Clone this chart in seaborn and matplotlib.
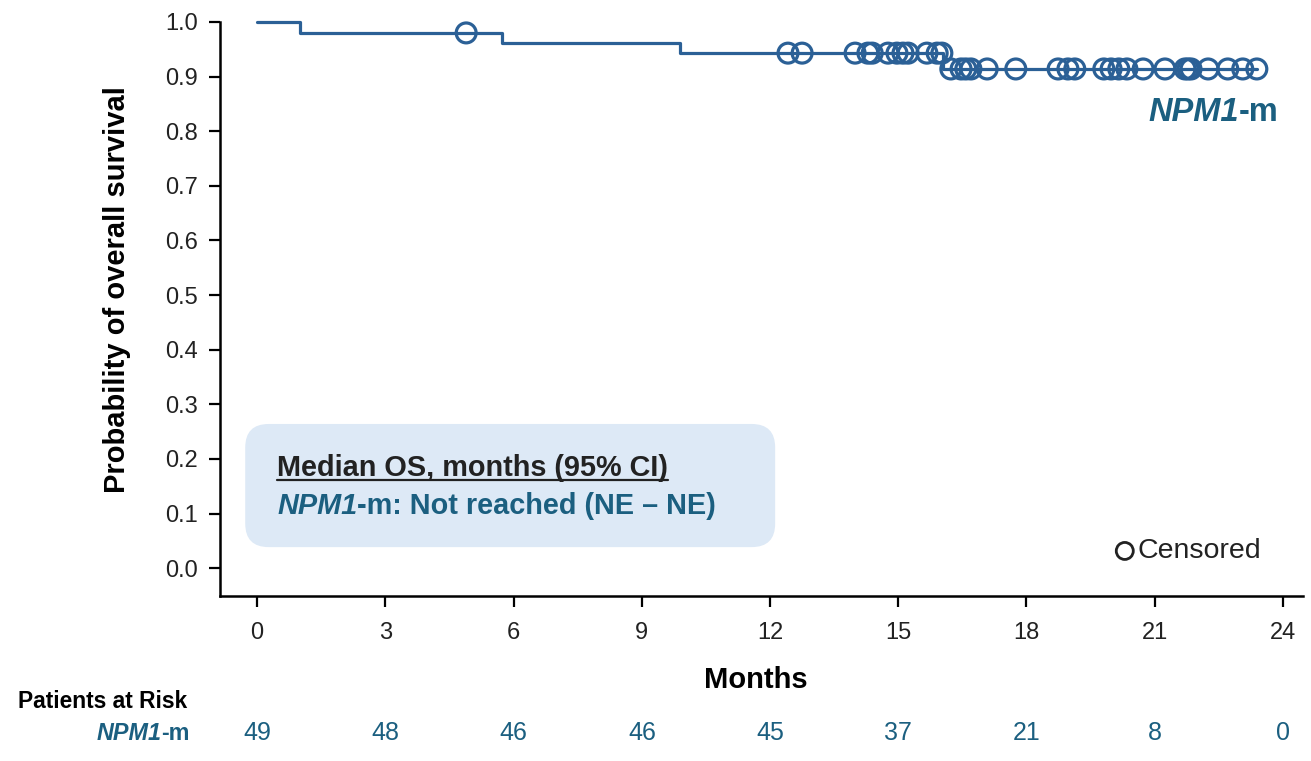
import numpy as np
import pandas as pd
import matplotlib
matplotlib.use("Agg")
import matplotlib.pyplot as plt
import seaborn as sns
from matplotlib.patches import FancyBboxPatch
from matplotlib.lines import Line2D

# KM step data
event_times = [0.0, 1.0, 5.73, 9.9, 16.05]
survival = [1.0, 0.98, 0.962, 0.943, 0.914]
last_followup = 23.39

censor_times = [4.89, 12.42, 12.75, 13.99, 14.29, 14.39, 14.76, 14.97, 15.11,
                15.23, 15.67, 15.91, 16.02, 16.23, 16.47, 16.58, 16.70, 17.08,
                17.75, 18.74, 18.97, 19.13, 19.81, 19.98, 20.16, 20.35, 20.73,
                21.24, 21.71, 21.78, 21.85, 22.25, 22.71, 23.06, 23.39]

risk_times = [0, 3, 6, 9, 12, 15, 18, 21, 24]
at_risk = [49, 48, 46, 46, 45, 37, 21, 8, 0]

line_col = "#2b6096"
teal = "#1b5f80"

sns.set_style("ticks")
plt.rcParams['font.family'] = ['Liberation Sans', 'DejaVu Sans']

fig = plt.figure(figsize=(13.11, 7.61), dpi=100)
ax = fig.add_axes([220/1311, 1-596/761, 1083/1311, 574/761])

curve = pd.DataFrame({"t": event_times + [last_followup],
                      "s": survival + [survival[-1]]})
sns.lineplot(data=curve, x="t", y="s", drawstyle="steps-post", color=line_col,
             linewidth=2.3, ax=ax, clip_on=False)

idx = np.searchsorted(event_times, censor_times, side="right") - 1
cens = pd.DataFrame({"t": censor_times, "s": np.array(survival)[idx]})
sns.scatterplot(data=cens, x="t", y="s", marker="o", s=205, facecolor="none",
                edgecolor=line_col, linewidth=2.3, ax=ax, clip_on=False, zorder=3)

ax.set_xlim(-0.87, 24.47)
ax.set_ylim(-0.051, 1.0)
ax.set_xticks(risk_times)
ax.set_yticks(np.arange(0, 1.01, 0.1))
ax.set_yticklabels([f"{v:.1f}" for v in np.arange(0, 1.01, 0.1)])
ax.tick_params(axis="both", labelsize=17, length=8, width=1.6, color="black",
               labelcolor="#222222")
ax.tick_params(axis="y", pad=8)
ax.tick_params(axis="x", pad=11)
for side in ["left", "bottom"]:
    ax.spines[side].set_linewidth(1.8)
    ax.spines[side].set_color("black")
sns.despine(ax=ax)

ax.set_ylabel("Probability of overall survival", fontsize=21, fontweight="bold",
              color="black")
ax.yaxis.set_label_coords(-0.082, 0.533)
ax.set_xlabel("Months", fontsize=21, fontweight="bold", color="black")
ax.xaxis.set_label_coords(0.495, -0.122)
ax.xaxis.label.set_va("top")

# median OS box
box = FancyBboxPatch((-0.28, 0.0385), 12.4, 0.2255,
                     boxstyle="round,pad=0,rounding_size=0.55",
                     mutation_aspect=42.75/545, facecolor="#dde9f6",
                     edgecolor="none", zorder=1)
ax.add_patch(box)

t_head = ax.text(0.47, 0.157, "Median OS, months (95% CI)", fontsize=20.8,
                 fontweight="bold", color="#222222", va="bottom", zorder=4)
t1 = ax.text(0.47, 0.089, "NPM1", fontsize=20.8, fontweight="bold",
             style="italic", color=teal, va="bottom", zorder=4)
ax.annotate("-m: Not reached (NE \u2013 NE)", xy=(1, 0), xycoords=t1,
            fontsize=20.8, fontweight="bold", color=teal, va="bottom", zorder=4)

# curve label
lab_m = ax.text(23.9, 0.806, "-m", fontsize=23.5, fontweight="bold", color=teal,
                ha="right", va="bottom")
ax.annotate("NPM1", xy=(0, 0), xycoords=lab_m, fontsize=23.5, fontweight="bold",
            style="italic", color=teal, ha="right", va="bottom")

# censored legend
ax.scatter([20.3], [0.0315], marker="o", s=150, facecolor="none",
           edgecolor="#222222", linewidth=2.0, zorder=4)
ax.text(20.6, 0.0315, "Censored", fontsize=20.5, color="#222222", va="center")

# patients at risk table
xtr = ax.get_xaxis_transform()
ax.text(-0.1865, -0.183, "Patients at Risk", transform=ax.transAxes,
        fontsize=16.4, fontweight="bold", color="black", va="center")
row_m = ax.text(-0.028, -0.2387, "-m", transform=ax.transAxes, fontsize=16.8,
                fontweight="bold", color=teal, ha="right", va="center")
ax.annotate("NPM1", xy=(0, 0), xycoords=row_m, fontsize=16.8, fontweight="bold",
            style="italic", color=teal, ha="right", va="bottom")
for t, n in zip(risk_times, at_risk):
    ax.text(t, -0.2387, str(n), transform=xtr, fontsize=18, color=teal,
            ha="center", va="center", clip_on=False)

# underline the heading
fig.canvas.draw()
bb = t_head.get_window_extent()
inv = fig.transFigure.inverted()
(x0, y0), (x1, _) = inv.transform([(bb.x0, bb.y0 + 2), (bb.x1, bb.y0 + 2)])
fig.add_artist(Line2D([x0, x1], [y0, y0], color="#222222", linewidth=1.6,
                      transform=fig.transFigure))

fig.savefig("out.png", dpi=100)
